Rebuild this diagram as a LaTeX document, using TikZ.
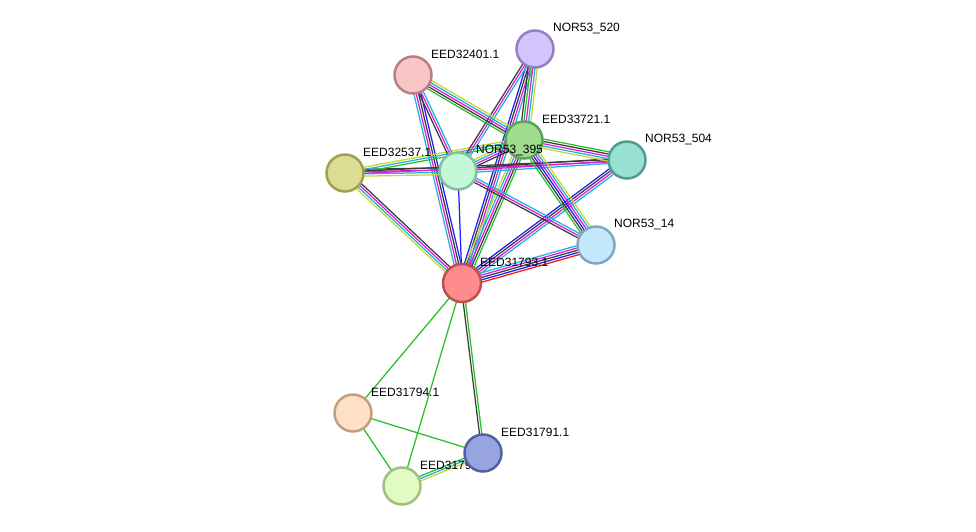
\documentclass[tikz,border=0pt]{standalone}
\usepackage{fontspec}
\setmainfont{Liberation Sans}
\usetikzlibrary{calc}
\pgfdeclarelayer{bg}
\pgfdeclarelayer{edges}
\pgfdeclarelayer{labels}
\pgfdeclarelayer{toplabels}
\pgfsetlayers{bg,edges,labels,main,toplabels}
\definecolor{eg}{RGB}{40,192,40}
\definecolor{er}{RGB}{250,20,20}
\definecolor{eb}{RGB}{30,30,250}
\definecolor{ek}{RGB}{60,60,60}
\definecolor{em}{RGB}{220,30,220}
\definecolor{ec}{RGB}{30,180,220}
\definecolor{ey}{RGB}{196,218,40}
\tikzset{
  prot/.style={circle, minimum size=37pt, inner sep=0pt, line width=2.5pt},
  lab/.style={anchor=west, inner sep=0pt, font=\fontsize{12}{12}\selectfont},
}
\newcommand{\medge}[3]{%
  \def\nn{0}%
  \foreach \cc in {#3}{\xdef\nn{\the\numexpr\nn+1\relax}}%
  \foreach \cc [count=\ii] in {#3}{%
    \pgfmathsetmacro\oo{(\ii-1-(\nn-1)/2)*2.3}%
    \draw[\cc, line width=1.25pt] ($(#1.center)!\oo pt!-90:(#2.center)$) -- ($(#2.center)!\oo pt!90:(#1.center)$);
  }%
}
\newcommand{\plabel}[3]{% name, node, text
  \node[lab] (#1) at ($(#2.center)+(18,-21)$) {#3};
}
\begin{document}
\begin{tikzpicture}[x=1pt,y=-1pt]
\useasboundingbox (0,0) rectangle (976,531);
\begin{pgfonlayer}{bg}
\fill[white] (0,0) rectangle (976,531);
\end{pgfonlayer}
% nodes
\node[prot, fill={rgb,255:red,255;green,140;blue,140}, draw={rgb,255:red,190;green,80;blue,80}, minimum size=38pt] (n31793) at (462,283) {};
\node[prot, fill={rgb,255:red,248;green,198;blue,198}, draw={rgb,255:red,184;green,128;blue,128}] (n32401) at (413,75) {};
\node[prot, fill={rgb,255:red,212;green,196;blue,252}, draw={rgb,255:red,144;green,128;blue,196}] (n520) at (535,49) {};
\node[prot, fill={rgb,255:red,160;green,220;blue,144}, draw={rgb,255:red,96;green,160;blue,96}] (n33721) at (524,140) {};
\node[prot, fill={rgb,255:red,152;green,224;blue,212}, draw={rgb,255:red,80;green,156;blue,144}] (n504) at (627,160) {};
\node[prot, fill={rgb,255:red,220;green,220;blue,148}, draw={rgb,255:red,160;green,160;blue,80}] (n32537) at (345,173) {};
\node[prot, fill={rgb,255:red,196;green,248;blue,216}, draw={rgb,255:red,128;green,192;blue,160}] (n395) at (458,171) {};
\node[prot, fill={rgb,255:red,196;green,232;blue,252}, draw={rgb,255:red,128;green,168;blue,196}] (n14) at (596,245) {};
\node[prot, fill={rgb,255:red,254;green,224;blue,196}, draw={rgb,255:red,192;green,160;blue,128}] (n31794) at (353,413) {};
\node[prot, fill={rgb,255:red,152;green,164;blue,224}, draw={rgb,255:red,80;green,96;blue,160}] (n31791) at (483,453) {};
\node[prot, fill={rgb,255:red,224;green,252;blue,196}, draw={rgb,255:red,160;green,192;blue,128}] (n31792) at (402,486) {};
% edges
\begin{pgfonlayer}{edges}
\medge{n31793}{n14}{ec,em,ek,eb,er}
\medge{n31793}{n504}{eb,ek,em,ec}
\medge{n31793}{n32537}{ey,ec,em,ek}
\medge{n31793}{n32401}{ec,em,ek,eb}
\medge{n31793}{n395}{eb}
\medge{n31793}{n520}{eb,ek,em,ec}
\medge{n31793}{n33721}{ey,ec,em,ek,eg}
\medge{n31793}{n31794}{eg}
\medge{n31793}{n31792}{eg}
\medge{n31793}{n31791}{eg,ek}
\medge{n31794}{n31791}{eg}
\medge{n31794}{n31792}{eg}
\medge{n31792}{n31791}{eg,ec,ey}
\medge{n32537}{n395}{ek,em,ec,ey}
\medge{n32537}{n33721}{ey,ec,eg}
\medge{n32537}{n504}{ek,em}
\medge{n395}{n504}{ek,em,ec}
\medge{n395}{n33721}{ey,ec,em,ek}
\medge{n395}{n520}{ek,em,ec}
\medge{n395}{n14}{ec,em,ek}
\medge{n32401}{n395}{ec,em,ek}
\medge{n32401}{n33721}{ey,ec,em,ek,eg}
\medge{n520}{n33721}{ey,ec,em,eg,ek}
\medge{n33721}{n504}{eg,ek,em,ec,ey}
\medge{n33721}{n14}{ey,ec,em,eb,ek,eg}
\end{pgfonlayer}
% labels
\begin{pgfonlayer}{labels}
\plabel{l31792}{n31792}{EED31792.1}
\end{pgfonlayer}
\begin{pgfonlayer}{toplabels}
\plabel{l31793}{n31793}{EED31793.1}
\plabel{l32401}{n32401}{EED32401.1}
\plabel{l520}{n520}{NOR53\_520}
\plabel{l33721}{n33721}{EED33721.1}
\plabel{l504}{n504}{NOR53\_504}
\plabel{l32537}{n32537}{EED32537.1}
\plabel{l395}{n395}{NOR53\_395}
\plabel{l14}{n14}{NOR53\_14}
\plabel{l31794}{n31794}{EED31794.1}
\plabel{l31791}{n31791}{EED31791.1}
\end{pgfonlayer}
\end{tikzpicture}
\end{document}
